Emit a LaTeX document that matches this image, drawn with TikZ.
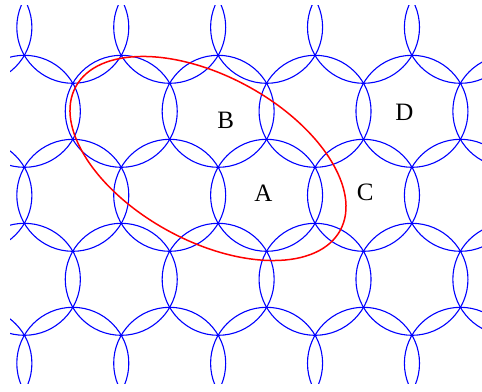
\documentclass[tikz,border=0pt]{standalone}
\usepackage{fontspec}
\setmainfont{Liberation Serif}
\begin{document}
\begin{tikzpicture}[x=1pt,y=-1pt,
  cell/.style={draw=blue, line width=1.1pt},
  zone/.style={draw=red, line width=1.5pt},
  lbl/.style={font=\fontsize{25}{25}\selectfont, inner sep=0pt, text=black}]
\useasboundingbox (0,0) rectangle (482,391);
\begin{scope}
  \clip (10,5) rectangle (482,383);
  \foreach \j/\xo in {-2/121.25, -1/72.8, 0/121.25, 1/72.8, 2/121.25, 3/72.8, 4/121.25} {
    \foreach \k in {-1,...,4} {
      \draw[cell] ({\xo+96.9*\k},{111.3+84*\j}) circle[radius=56pt];
    }
  }
\end{scope}
\coordinate (ec) at (208,158.5);
\draw[zone, rotate around={-28.5:(ec)}] (ec) ellipse[x radius=150.5pt, y radius=82.5pt];
\node[lbl] (B) at (225.8,120) {B};
\node[lbl] (A) at (263.3,193.3) {A};
\node[lbl] (D) at (404.5,112.8) {D};
\node[lbl] (C) at (365.3,192.8) {C};
\end{tikzpicture}
\end{document}
